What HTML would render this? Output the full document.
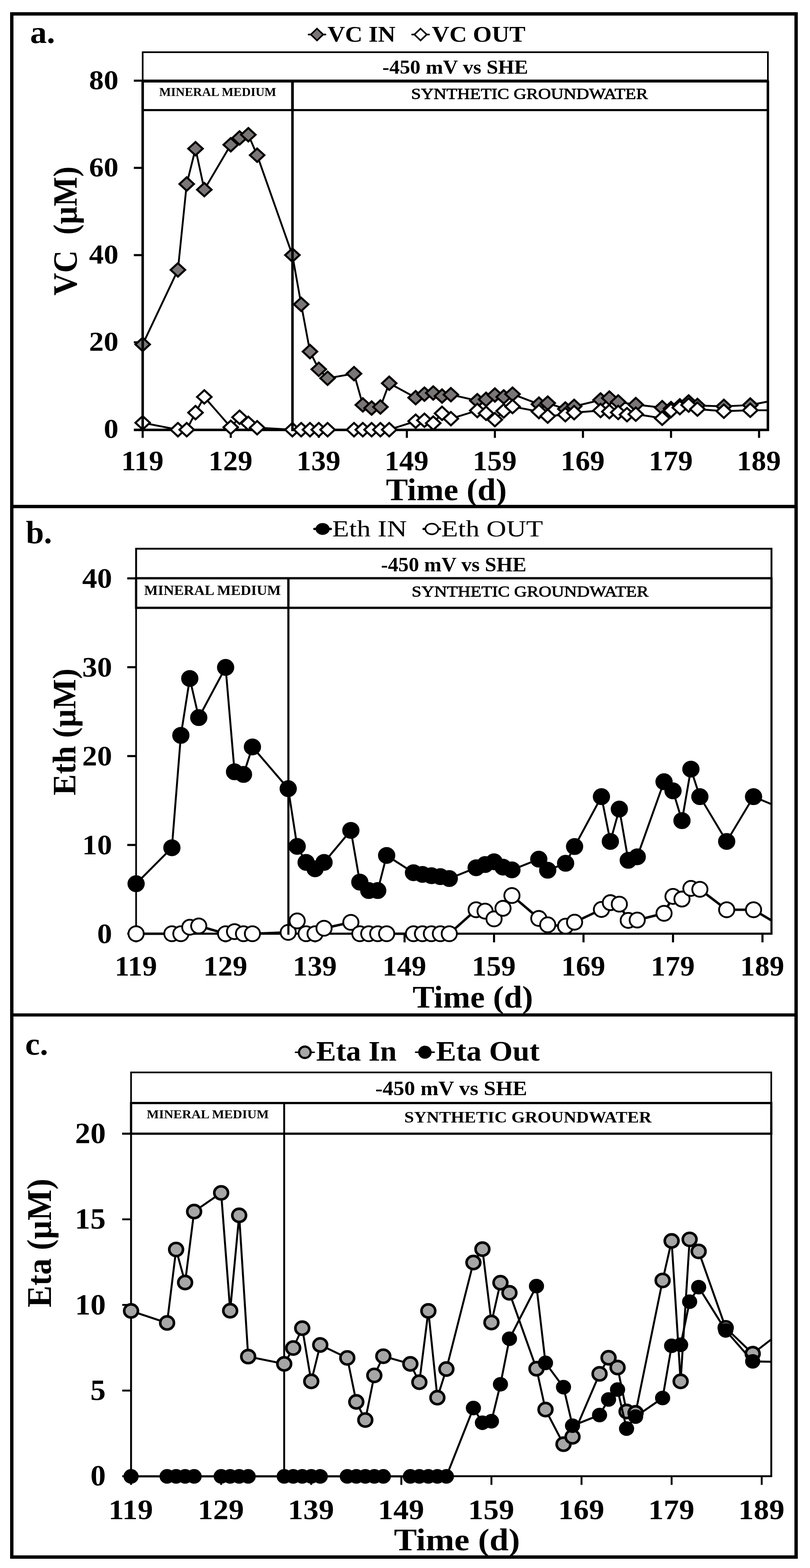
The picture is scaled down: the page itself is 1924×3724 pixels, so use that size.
<!DOCTYPE html>
<html lang="en"><head><meta charset="utf-8"><title>Figure: VC, Eth and Eta time courses</title>
<style>html,body{margin:0;padding:0;background:#fff}body{width:1924px;height:3724px;overflow:hidden}svg{display:block}text{font-family:'Liberation Serif', 'DejaVu Serif', serif;font-weight:bold;fill:#000}line,rect,polyline,path,circle,ellipse{stroke:#000}</style></head><body>
<svg width="1924" height="3724" viewBox="0 0 1924 3724">
<!-- panel a -->
<clipPath id="clipa"><rect x="308.9" y="182.5" width="1515.1" height="888.5"/></clipPath>
<line x1="338.9" y1="1021.0" x2="1827.0" y2="1021.0" stroke-width="6" stroke-linecap="butt"/>
<line x1="1824.0" y1="192.5" x2="1824.0" y2="1021.0" stroke-width="6" stroke-linecap="butt"/>
<line x1="338.9" y1="1021.0" x2="338.9" y2="1039.9" stroke-width="5" stroke-linecap="butt"/>
<line x1="548.1" y1="1021.0" x2="548.1" y2="1039.9" stroke-width="5" stroke-linecap="butt"/>
<line x1="757.2" y1="1021.0" x2="757.2" y2="1039.9" stroke-width="5" stroke-linecap="butt"/>
<line x1="966.4" y1="1021.0" x2="966.4" y2="1039.9" stroke-width="5" stroke-linecap="butt"/>
<line x1="1175.5" y1="1021.0" x2="1175.5" y2="1039.9" stroke-width="5" stroke-linecap="butt"/>
<line x1="1384.7" y1="1021.0" x2="1384.7" y2="1039.9" stroke-width="5" stroke-linecap="butt"/>
<line x1="1593.9" y1="1021.0" x2="1593.9" y2="1039.9" stroke-width="5" stroke-linecap="butt"/>
<line x1="1803.0" y1="1021.0" x2="1803.0" y2="1039.9" stroke-width="5" stroke-linecap="butt"/>
<line x1="317.9" y1="1021.0" x2="338.9" y2="1021.0" stroke-width="6" stroke-linecap="butt"/>
<line x1="317.9" y1="813.0" x2="338.9" y2="813.0" stroke-width="5" stroke-linecap="butt"/>
<line x1="317.9" y1="605.9" x2="338.9" y2="605.9" stroke-width="5" stroke-linecap="butt"/>
<line x1="317.9" y1="398.7" x2="338.9" y2="398.7" stroke-width="5" stroke-linecap="butt"/>
<line x1="317.9" y1="191.6" x2="338.9" y2="191.6" stroke-width="5" stroke-linecap="butt"/>
<g clip-path="url(#clipa)">
<polyline points="338.9,818.0 422.6,641.0 443.5,437.0 464.4,353.1 485.3,450.4 548.1,343.8 569.0,327.7 589.9,320.0 610.8,368.6 694.5,605.8 715.4,722.8 736.3,835.0 757.2,877.1 778.1,898.3 840.9,887.4 861.8,961.7 882.7,969.2 903.6,966.6 924.5,910.2 987.3,944.4 1008.2,936.1 1029.1,933.3 1050.0,940.7 1071.0,937.3 1133.7,951.6 1154.6,948.5 1175.5,938.2 1196.5,942.7 1217.4,936.1 1280.1,959.9 1301.0,957.3 1342.9,971.3 1363.8,965.1 1426.5,950.0 1447.4,945.4 1468.4,954.7 1510.2,960.9 1572.9,968.2 1593.9,970.3 1614.8,964.0 1635.7,954.7 1656.6,963.0 1719.4,965.1 1782.1,962.0 1823.9,953.7" fill="none" stroke-width="4.4" stroke-linejoin="round"/>
<rect x="-0.7071" y="-0.7071" width="1.4142" height="1.4142" transform="translate(338.9 818.0) scale(17.2 15.9) rotate(45)" vector-effect="non-scaling-stroke" fill="#7b7575" stroke-width="4.8"/>
<rect x="-0.7071" y="-0.7071" width="1.4142" height="1.4142" transform="translate(422.6 641.0) scale(17.2 15.9) rotate(45)" vector-effect="non-scaling-stroke" fill="#7b7575" stroke-width="4.8"/>
<rect x="-0.7071" y="-0.7071" width="1.4142" height="1.4142" transform="translate(443.5 437.0) scale(17.2 15.9) rotate(45)" vector-effect="non-scaling-stroke" fill="#7b7575" stroke-width="4.8"/>
<rect x="-0.7071" y="-0.7071" width="1.4142" height="1.4142" transform="translate(464.4 353.1) scale(17.2 15.9) rotate(45)" vector-effect="non-scaling-stroke" fill="#7b7575" stroke-width="4.8"/>
<rect x="-0.7071" y="-0.7071" width="1.4142" height="1.4142" transform="translate(485.3 450.4) scale(17.2 15.9) rotate(45)" vector-effect="non-scaling-stroke" fill="#7b7575" stroke-width="4.8"/>
<rect x="-0.7071" y="-0.7071" width="1.4142" height="1.4142" transform="translate(548.1 343.8) scale(17.2 15.9) rotate(45)" vector-effect="non-scaling-stroke" fill="#7b7575" stroke-width="4.8"/>
<rect x="-0.7071" y="-0.7071" width="1.4142" height="1.4142" transform="translate(569.0 327.7) scale(17.2 15.9) rotate(45)" vector-effect="non-scaling-stroke" fill="#7b7575" stroke-width="4.8"/>
<rect x="-0.7071" y="-0.7071" width="1.4142" height="1.4142" transform="translate(589.9 320.0) scale(17.2 15.9) rotate(45)" vector-effect="non-scaling-stroke" fill="#7b7575" stroke-width="4.8"/>
<rect x="-0.7071" y="-0.7071" width="1.4142" height="1.4142" transform="translate(610.8 368.6) scale(17.2 15.9) rotate(45)" vector-effect="non-scaling-stroke" fill="#7b7575" stroke-width="4.8"/>
<rect x="-0.7071" y="-0.7071" width="1.4142" height="1.4142" transform="translate(694.5 605.8) scale(17.2 15.9) rotate(45)" vector-effect="non-scaling-stroke" fill="#7b7575" stroke-width="4.8"/>
<rect x="-0.7071" y="-0.7071" width="1.4142" height="1.4142" transform="translate(715.4 722.8) scale(17.2 15.9) rotate(45)" vector-effect="non-scaling-stroke" fill="#7b7575" stroke-width="4.8"/>
<rect x="-0.7071" y="-0.7071" width="1.4142" height="1.4142" transform="translate(736.3 835.0) scale(17.2 15.9) rotate(45)" vector-effect="non-scaling-stroke" fill="#7b7575" stroke-width="4.8"/>
<rect x="-0.7071" y="-0.7071" width="1.4142" height="1.4142" transform="translate(757.2 877.1) scale(17.2 15.9) rotate(45)" vector-effect="non-scaling-stroke" fill="#7b7575" stroke-width="4.8"/>
<rect x="-0.7071" y="-0.7071" width="1.4142" height="1.4142" transform="translate(778.1 898.3) scale(17.2 15.9) rotate(45)" vector-effect="non-scaling-stroke" fill="#7b7575" stroke-width="4.8"/>
<rect x="-0.7071" y="-0.7071" width="1.4142" height="1.4142" transform="translate(840.9 887.4) scale(17.2 15.9) rotate(45)" vector-effect="non-scaling-stroke" fill="#7b7575" stroke-width="4.8"/>
<rect x="-0.7071" y="-0.7071" width="1.4142" height="1.4142" transform="translate(861.8 961.7) scale(17.2 15.9) rotate(45)" vector-effect="non-scaling-stroke" fill="#7b7575" stroke-width="4.8"/>
<rect x="-0.7071" y="-0.7071" width="1.4142" height="1.4142" transform="translate(882.7 969.2) scale(17.2 15.9) rotate(45)" vector-effect="non-scaling-stroke" fill="#7b7575" stroke-width="4.8"/>
<rect x="-0.7071" y="-0.7071" width="1.4142" height="1.4142" transform="translate(903.6 966.6) scale(17.2 15.9) rotate(45)" vector-effect="non-scaling-stroke" fill="#7b7575" stroke-width="4.8"/>
<rect x="-0.7071" y="-0.7071" width="1.4142" height="1.4142" transform="translate(924.5 910.2) scale(17.2 15.9) rotate(45)" vector-effect="non-scaling-stroke" fill="#7b7575" stroke-width="4.8"/>
<rect x="-0.7071" y="-0.7071" width="1.4142" height="1.4142" transform="translate(987.3 944.4) scale(17.2 15.9) rotate(45)" vector-effect="non-scaling-stroke" fill="#7b7575" stroke-width="4.8"/>
<rect x="-0.7071" y="-0.7071" width="1.4142" height="1.4142" transform="translate(1008.2 936.1) scale(17.2 15.9) rotate(45)" vector-effect="non-scaling-stroke" fill="#7b7575" stroke-width="4.8"/>
<rect x="-0.7071" y="-0.7071" width="1.4142" height="1.4142" transform="translate(1029.1 933.3) scale(17.2 15.9) rotate(45)" vector-effect="non-scaling-stroke" fill="#7b7575" stroke-width="4.8"/>
<rect x="-0.7071" y="-0.7071" width="1.4142" height="1.4142" transform="translate(1050.0 940.7) scale(17.2 15.9) rotate(45)" vector-effect="non-scaling-stroke" fill="#7b7575" stroke-width="4.8"/>
<rect x="-0.7071" y="-0.7071" width="1.4142" height="1.4142" transform="translate(1071.0 937.3) scale(17.2 15.9) rotate(45)" vector-effect="non-scaling-stroke" fill="#7b7575" stroke-width="4.8"/>
<rect x="-0.7071" y="-0.7071" width="1.4142" height="1.4142" transform="translate(1133.7 951.6) scale(17.2 15.9) rotate(45)" vector-effect="non-scaling-stroke" fill="#7b7575" stroke-width="4.8"/>
<rect x="-0.7071" y="-0.7071" width="1.4142" height="1.4142" transform="translate(1154.6 948.5) scale(17.2 15.9) rotate(45)" vector-effect="non-scaling-stroke" fill="#7b7575" stroke-width="4.8"/>
<rect x="-0.7071" y="-0.7071" width="1.4142" height="1.4142" transform="translate(1175.5 938.2) scale(17.2 15.9) rotate(45)" vector-effect="non-scaling-stroke" fill="#7b7575" stroke-width="4.8"/>
<rect x="-0.7071" y="-0.7071" width="1.4142" height="1.4142" transform="translate(1196.5 942.7) scale(17.2 15.9) rotate(45)" vector-effect="non-scaling-stroke" fill="#7b7575" stroke-width="4.8"/>
<rect x="-0.7071" y="-0.7071" width="1.4142" height="1.4142" transform="translate(1217.4 936.1) scale(17.2 15.9) rotate(45)" vector-effect="non-scaling-stroke" fill="#7b7575" stroke-width="4.8"/>
<rect x="-0.7071" y="-0.7071" width="1.4142" height="1.4142" transform="translate(1280.1 959.9) scale(17.2 15.9) rotate(45)" vector-effect="non-scaling-stroke" fill="#7b7575" stroke-width="4.8"/>
<rect x="-0.7071" y="-0.7071" width="1.4142" height="1.4142" transform="translate(1301.0 957.3) scale(17.2 15.9) rotate(45)" vector-effect="non-scaling-stroke" fill="#7b7575" stroke-width="4.8"/>
<rect x="-0.7071" y="-0.7071" width="1.4142" height="1.4142" transform="translate(1342.9 971.3) scale(17.2 15.9) rotate(45)" vector-effect="non-scaling-stroke" fill="#7b7575" stroke-width="4.8"/>
<rect x="-0.7071" y="-0.7071" width="1.4142" height="1.4142" transform="translate(1363.8 965.1) scale(17.2 15.9) rotate(45)" vector-effect="non-scaling-stroke" fill="#7b7575" stroke-width="4.8"/>
<rect x="-0.7071" y="-0.7071" width="1.4142" height="1.4142" transform="translate(1426.5 950.0) scale(17.2 15.9) rotate(45)" vector-effect="non-scaling-stroke" fill="#7b7575" stroke-width="4.8"/>
<rect x="-0.7071" y="-0.7071" width="1.4142" height="1.4142" transform="translate(1447.4 945.4) scale(17.2 15.9) rotate(45)" vector-effect="non-scaling-stroke" fill="#7b7575" stroke-width="4.8"/>
<rect x="-0.7071" y="-0.7071" width="1.4142" height="1.4142" transform="translate(1468.4 954.7) scale(17.2 15.9) rotate(45)" vector-effect="non-scaling-stroke" fill="#7b7575" stroke-width="4.8"/>
<rect x="-0.7071" y="-0.7071" width="1.4142" height="1.4142" transform="translate(1510.2 960.9) scale(17.2 15.9) rotate(45)" vector-effect="non-scaling-stroke" fill="#7b7575" stroke-width="4.8"/>
<rect x="-0.7071" y="-0.7071" width="1.4142" height="1.4142" transform="translate(1572.9 968.2) scale(17.2 15.9) rotate(45)" vector-effect="non-scaling-stroke" fill="#7b7575" stroke-width="4.8"/>
<rect x="-0.7071" y="-0.7071" width="1.4142" height="1.4142" transform="translate(1593.9 970.3) scale(17.2 15.9) rotate(45)" vector-effect="non-scaling-stroke" fill="#7b7575" stroke-width="4.8"/>
<rect x="-0.7071" y="-0.7071" width="1.4142" height="1.4142" transform="translate(1614.8 964.0) scale(17.2 15.9) rotate(45)" vector-effect="non-scaling-stroke" fill="#7b7575" stroke-width="4.8"/>
<rect x="-0.7071" y="-0.7071" width="1.4142" height="1.4142" transform="translate(1635.7 954.7) scale(17.2 15.9) rotate(45)" vector-effect="non-scaling-stroke" fill="#7b7575" stroke-width="4.8"/>
<rect x="-0.7071" y="-0.7071" width="1.4142" height="1.4142" transform="translate(1656.6 963.0) scale(17.2 15.9) rotate(45)" vector-effect="non-scaling-stroke" fill="#7b7575" stroke-width="4.8"/>
<rect x="-0.7071" y="-0.7071" width="1.4142" height="1.4142" transform="translate(1719.4 965.1) scale(17.2 15.9) rotate(45)" vector-effect="non-scaling-stroke" fill="#7b7575" stroke-width="4.8"/>
<rect x="-0.7071" y="-0.7071" width="1.4142" height="1.4142" transform="translate(1782.1 962.0) scale(17.2 15.9) rotate(45)" vector-effect="non-scaling-stroke" fill="#7b7575" stroke-width="4.8"/>
</g>
<g clip-path="url(#clipa)">
<polyline points="338.9,1004.1 422.6,1020.5 443.5,1020.5 464.4,980.0 485.3,942.7 548.1,1014.8 569.0,991.0 589.9,1005.5 610.8,1015.8 694.5,1020.5 715.4,1020.5 736.3,1020.5 757.2,1020.5 778.1,1020.5 840.9,1020.5 861.8,1020.5 882.7,1020.5 903.6,1020.5 924.5,1020.5 987.3,1000.3 1008.2,998.2 1029.1,1004.9 1050.0,981.7 1071.0,994.3 1133.7,975.0 1154.6,981.7 1175.5,996.7 1196.5,976.0 1217.4,965.7 1280.1,977.5 1301.0,988.3 1342.9,984.8 1363.8,980.0 1426.5,975.0 1447.4,977.5 1468.4,979.6 1489.3,984.8 1510.2,983.7 1572.9,993.4 1593.9,975.0 1614.8,968.2 1635.7,962.0 1656.6,971.7 1719.4,976.5 1782.1,974.4 1823.9,974.4" fill="none" stroke-width="4.4" stroke-linejoin="round"/>
<rect x="-0.7071" y="-0.7071" width="1.4142" height="1.4142" transform="translate(338.9 1004.1) scale(17.2 15.9) rotate(45)" vector-effect="non-scaling-stroke" fill="#fff" stroke-width="4.8"/>
<rect x="-0.7071" y="-0.7071" width="1.4142" height="1.4142" transform="translate(422.6 1020.5) scale(17.2 15.9) rotate(45)" vector-effect="non-scaling-stroke" fill="#fff" stroke-width="4.8"/>
<rect x="-0.7071" y="-0.7071" width="1.4142" height="1.4142" transform="translate(443.5 1020.5) scale(17.2 15.9) rotate(45)" vector-effect="non-scaling-stroke" fill="#fff" stroke-width="4.8"/>
<rect x="-0.7071" y="-0.7071" width="1.4142" height="1.4142" transform="translate(464.4 980.0) scale(17.2 15.9) rotate(45)" vector-effect="non-scaling-stroke" fill="#fff" stroke-width="4.8"/>
<rect x="-0.7071" y="-0.7071" width="1.4142" height="1.4142" transform="translate(485.3 942.7) scale(17.2 15.9) rotate(45)" vector-effect="non-scaling-stroke" fill="#fff" stroke-width="4.8"/>
<rect x="-0.7071" y="-0.7071" width="1.4142" height="1.4142" transform="translate(548.1 1014.8) scale(17.2 15.9) rotate(45)" vector-effect="non-scaling-stroke" fill="#fff" stroke-width="4.8"/>
<rect x="-0.7071" y="-0.7071" width="1.4142" height="1.4142" transform="translate(569.0 991.0) scale(17.2 15.9) rotate(45)" vector-effect="non-scaling-stroke" fill="#fff" stroke-width="4.8"/>
<rect x="-0.7071" y="-0.7071" width="1.4142" height="1.4142" transform="translate(589.9 1005.5) scale(17.2 15.9) rotate(45)" vector-effect="non-scaling-stroke" fill="#fff" stroke-width="4.8"/>
<rect x="-0.7071" y="-0.7071" width="1.4142" height="1.4142" transform="translate(610.8 1015.8) scale(17.2 15.9) rotate(45)" vector-effect="non-scaling-stroke" fill="#fff" stroke-width="4.8"/>
<rect x="-0.7071" y="-0.7071" width="1.4142" height="1.4142" transform="translate(694.5 1020.5) scale(17.2 15.9) rotate(45)" vector-effect="non-scaling-stroke" fill="#fff" stroke-width="4.8"/>
<rect x="-0.7071" y="-0.7071" width="1.4142" height="1.4142" transform="translate(715.4 1020.5) scale(17.2 15.9) rotate(45)" vector-effect="non-scaling-stroke" fill="#fff" stroke-width="4.8"/>
<rect x="-0.7071" y="-0.7071" width="1.4142" height="1.4142" transform="translate(736.3 1020.5) scale(17.2 15.9) rotate(45)" vector-effect="non-scaling-stroke" fill="#fff" stroke-width="4.8"/>
<rect x="-0.7071" y="-0.7071" width="1.4142" height="1.4142" transform="translate(757.2 1020.5) scale(17.2 15.9) rotate(45)" vector-effect="non-scaling-stroke" fill="#fff" stroke-width="4.8"/>
<rect x="-0.7071" y="-0.7071" width="1.4142" height="1.4142" transform="translate(778.1 1020.5) scale(17.2 15.9) rotate(45)" vector-effect="non-scaling-stroke" fill="#fff" stroke-width="4.8"/>
<rect x="-0.7071" y="-0.7071" width="1.4142" height="1.4142" transform="translate(840.9 1020.5) scale(17.2 15.9) rotate(45)" vector-effect="non-scaling-stroke" fill="#fff" stroke-width="4.8"/>
<rect x="-0.7071" y="-0.7071" width="1.4142" height="1.4142" transform="translate(861.8 1020.5) scale(17.2 15.9) rotate(45)" vector-effect="non-scaling-stroke" fill="#fff" stroke-width="4.8"/>
<rect x="-0.7071" y="-0.7071" width="1.4142" height="1.4142" transform="translate(882.7 1020.5) scale(17.2 15.9) rotate(45)" vector-effect="non-scaling-stroke" fill="#fff" stroke-width="4.8"/>
<rect x="-0.7071" y="-0.7071" width="1.4142" height="1.4142" transform="translate(903.6 1020.5) scale(17.2 15.9) rotate(45)" vector-effect="non-scaling-stroke" fill="#fff" stroke-width="4.8"/>
<rect x="-0.7071" y="-0.7071" width="1.4142" height="1.4142" transform="translate(924.5 1020.5) scale(17.2 15.9) rotate(45)" vector-effect="non-scaling-stroke" fill="#fff" stroke-width="4.8"/>
<rect x="-0.7071" y="-0.7071" width="1.4142" height="1.4142" transform="translate(987.3 1000.3) scale(17.2 15.9) rotate(45)" vector-effect="non-scaling-stroke" fill="#fff" stroke-width="4.8"/>
<rect x="-0.7071" y="-0.7071" width="1.4142" height="1.4142" transform="translate(1008.2 998.2) scale(17.2 15.9) rotate(45)" vector-effect="non-scaling-stroke" fill="#fff" stroke-width="4.8"/>
<rect x="-0.7071" y="-0.7071" width="1.4142" height="1.4142" transform="translate(1029.1 1004.9) scale(17.2 15.9) rotate(45)" vector-effect="non-scaling-stroke" fill="#fff" stroke-width="4.8"/>
<rect x="-0.7071" y="-0.7071" width="1.4142" height="1.4142" transform="translate(1050.0 981.7) scale(17.2 15.9) rotate(45)" vector-effect="non-scaling-stroke" fill="#fff" stroke-width="4.8"/>
<rect x="-0.7071" y="-0.7071" width="1.4142" height="1.4142" transform="translate(1071.0 994.3) scale(17.2 15.9) rotate(45)" vector-effect="non-scaling-stroke" fill="#fff" stroke-width="4.8"/>
<rect x="-0.7071" y="-0.7071" width="1.4142" height="1.4142" transform="translate(1133.7 975.0) scale(17.2 15.9) rotate(45)" vector-effect="non-scaling-stroke" fill="#fff" stroke-width="4.8"/>
<rect x="-0.7071" y="-0.7071" width="1.4142" height="1.4142" transform="translate(1154.6 981.7) scale(17.2 15.9) rotate(45)" vector-effect="non-scaling-stroke" fill="#fff" stroke-width="4.8"/>
<rect x="-0.7071" y="-0.7071" width="1.4142" height="1.4142" transform="translate(1175.5 996.7) scale(17.2 15.9) rotate(45)" vector-effect="non-scaling-stroke" fill="#fff" stroke-width="4.8"/>
<rect x="-0.7071" y="-0.7071" width="1.4142" height="1.4142" transform="translate(1196.5 976.0) scale(17.2 15.9) rotate(45)" vector-effect="non-scaling-stroke" fill="#fff" stroke-width="4.8"/>
<rect x="-0.7071" y="-0.7071" width="1.4142" height="1.4142" transform="translate(1217.4 965.7) scale(17.2 15.9) rotate(45)" vector-effect="non-scaling-stroke" fill="#fff" stroke-width="4.8"/>
<rect x="-0.7071" y="-0.7071" width="1.4142" height="1.4142" transform="translate(1280.1 977.5) scale(17.2 15.9) rotate(45)" vector-effect="non-scaling-stroke" fill="#fff" stroke-width="4.8"/>
<rect x="-0.7071" y="-0.7071" width="1.4142" height="1.4142" transform="translate(1301.0 988.3) scale(17.2 15.9) rotate(45)" vector-effect="non-scaling-stroke" fill="#fff" stroke-width="4.8"/>
<rect x="-0.7071" y="-0.7071" width="1.4142" height="1.4142" transform="translate(1342.9 984.8) scale(17.2 15.9) rotate(45)" vector-effect="non-scaling-stroke" fill="#fff" stroke-width="4.8"/>
<rect x="-0.7071" y="-0.7071" width="1.4142" height="1.4142" transform="translate(1363.8 980.0) scale(17.2 15.9) rotate(45)" vector-effect="non-scaling-stroke" fill="#fff" stroke-width="4.8"/>
<rect x="-0.7071" y="-0.7071" width="1.4142" height="1.4142" transform="translate(1426.5 975.0) scale(17.2 15.9) rotate(45)" vector-effect="non-scaling-stroke" fill="#fff" stroke-width="4.8"/>
<rect x="-0.7071" y="-0.7071" width="1.4142" height="1.4142" transform="translate(1447.4 977.5) scale(17.2 15.9) rotate(45)" vector-effect="non-scaling-stroke" fill="#fff" stroke-width="4.8"/>
<rect x="-0.7071" y="-0.7071" width="1.4142" height="1.4142" transform="translate(1468.4 979.6) scale(17.2 15.9) rotate(45)" vector-effect="non-scaling-stroke" fill="#fff" stroke-width="4.8"/>
<rect x="-0.7071" y="-0.7071" width="1.4142" height="1.4142" transform="translate(1489.3 984.8) scale(17.2 15.9) rotate(45)" vector-effect="non-scaling-stroke" fill="#fff" stroke-width="4.8"/>
<rect x="-0.7071" y="-0.7071" width="1.4142" height="1.4142" transform="translate(1510.2 983.7) scale(17.2 15.9) rotate(45)" vector-effect="non-scaling-stroke" fill="#fff" stroke-width="4.8"/>
<rect x="-0.7071" y="-0.7071" width="1.4142" height="1.4142" transform="translate(1572.9 993.4) scale(17.2 15.9) rotate(45)" vector-effect="non-scaling-stroke" fill="#fff" stroke-width="4.8"/>
<rect x="-0.7071" y="-0.7071" width="1.4142" height="1.4142" transform="translate(1593.9 975.0) scale(17.2 15.9) rotate(45)" vector-effect="non-scaling-stroke" fill="#fff" stroke-width="4.8"/>
<rect x="-0.7071" y="-0.7071" width="1.4142" height="1.4142" transform="translate(1614.8 968.2) scale(17.2 15.9) rotate(45)" vector-effect="non-scaling-stroke" fill="#fff" stroke-width="4.8"/>
<rect x="-0.7071" y="-0.7071" width="1.4142" height="1.4142" transform="translate(1635.7 962.0) scale(17.2 15.9) rotate(45)" vector-effect="non-scaling-stroke" fill="#fff" stroke-width="4.8"/>
<rect x="-0.7071" y="-0.7071" width="1.4142" height="1.4142" transform="translate(1656.6 971.7) scale(17.2 15.9) rotate(45)" vector-effect="non-scaling-stroke" fill="#fff" stroke-width="4.8"/>
<rect x="-0.7071" y="-0.7071" width="1.4142" height="1.4142" transform="translate(1719.4 976.5) scale(17.2 15.9) rotate(45)" vector-effect="non-scaling-stroke" fill="#fff" stroke-width="4.8"/>
<rect x="-0.7071" y="-0.7071" width="1.4142" height="1.4142" transform="translate(1782.1 974.4) scale(17.2 15.9) rotate(45)" vector-effect="non-scaling-stroke" fill="#fff" stroke-width="4.8"/>
</g>
<line x1="338.9" y1="192.5" x2="338.9" y2="1024.0" stroke-width="6" stroke-linecap="butt"/>
<line x1="694.7" y1="192.5" x2="694.7" y2="1024.0" stroke-width="6" stroke-linecap="butt"/>
<rect x="338.9" y="124.0" width="1485.1" height="68.5" fill="none" stroke-width="4"/>
<rect x="338.9" y="192.5" width="1485.1" height="69.0" fill="none" stroke-width="5"/>
<line x1="338.9" y1="192.5" x2="1824.0" y2="192.5" stroke-width="7" stroke-linecap="butt"/>
<line x1="694.7" y1="192.5" x2="694.7" y2="261.5" stroke-width="6" stroke-linecap="butt"/>
<text transform="translate(71.42 102.00) scale(1.0380 1)" font-size="76.50">a.</text>
<line x1="733.0" y1="82.0" x2="773.0" y2="82.0" stroke-width="4.2" stroke-linecap="round"/>
<rect x="-0.7071" y="-0.7071" width="1.4142" height="1.4142" transform="translate(753.0 82.0) scale(14.6 14.0) rotate(45)" vector-effect="non-scaling-stroke" fill="#7b7575" stroke-width="3.8"/>
<text transform="translate(777.92 98.70) scale(1.0799 1)" font-size="53.30">VC IN</text>
<line x1="979.0" y1="82.0" x2="1019.0" y2="82.0" stroke-width="4.2" stroke-linecap="round"/>
<rect x="-0.7071" y="-0.7071" width="1.4142" height="1.4142" transform="translate(999.0 82.0) scale(14.6 14.0) rotate(45)" vector-effect="non-scaling-stroke" fill="#fff" stroke-width="3.8"/>
<text transform="translate(1025.82 98.70) scale(1.0802 1)" font-size="53.30">VC OUT</text>
<text transform="translate(908.27 175.10) scale(1.0553 1)" font-size="46.80">-450 mV vs SHE</text>
<text transform="translate(378.26 228.30) scale(1.0185 1)" font-size="29.00">MINERAL MEDIUM</text>
<text transform="translate(976.57 235.40) scale(1.1393 1)" font-size="36.80" style="font-weight:normal" stroke="#000" stroke-width="1.0">SYNTHETIC GROUNDWATER</text>
<text transform="translate(182.40 701.64) rotate(-90) scale(0.9305 1)" font-size="79.70" xml:space="preserve">VC  (µM)</text>
<text transform="translate(916.63 1187.90) scale(1.0632 1)" font-size="73.50">Time (d)</text>
<text transform="translate(246.47 1040.30) scale(1.0600 1)" font-size="65.90">0</text>
<text transform="translate(211.54 833.17) scale(1.0600 1)" font-size="65.90">20</text>
<text transform="translate(211.54 626.05) scale(1.0600 1)" font-size="65.90">40</text>
<text transform="translate(211.54 418.93) scale(1.0600 1)" font-size="65.90">60</text>
<text transform="translate(211.54 211.80) scale(1.0600 1)" font-size="65.90">80</text>
<text transform="translate(287.93 1116.60) scale(1.0350 1)" font-size="67.40">119</text>
<text transform="translate(495.17 1116.60) scale(1.0350 1)" font-size="67.40">129</text>
<text transform="translate(704.33 1116.60) scale(1.0350 1)" font-size="67.40">139</text>
<text transform="translate(913.49 1116.60) scale(1.0350 1)" font-size="67.40">149</text>
<text transform="translate(1122.65 1116.60) scale(1.0350 1)" font-size="67.40">159</text>
<text transform="translate(1331.81 1116.60) scale(1.0350 1)" font-size="67.40">169</text>
<text transform="translate(1540.97 1116.60) scale(1.0350 1)" font-size="67.40">179</text>
<text transform="translate(1750.13 1116.60) scale(1.0350 1)" font-size="67.40">189</text>
<!-- panel b -->
<clipPath id="clipb"><rect x="293.3" y="1363.3" width="1539.2" height="904.2"/></clipPath>
<line x1="323.3" y1="2217.5" x2="1835.0" y2="2217.5" stroke-width="5" stroke-linecap="butt"/>
<line x1="1832.5" y1="1373.3" x2="1832.5" y2="2217.5" stroke-width="5" stroke-linecap="butt"/>
<line x1="323.3" y1="2217.5" x2="323.3" y2="2238.1" stroke-width="5" stroke-linecap="butt"/>
<line x1="535.9" y1="2217.5" x2="535.9" y2="2238.1" stroke-width="5" stroke-linecap="butt"/>
<line x1="748.4" y1="2217.5" x2="748.4" y2="2238.1" stroke-width="5" stroke-linecap="butt"/>
<line x1="961.0" y1="2217.5" x2="961.0" y2="2238.1" stroke-width="5" stroke-linecap="butt"/>
<line x1="1173.5" y1="2217.5" x2="1173.5" y2="2238.1" stroke-width="5" stroke-linecap="butt"/>
<line x1="1386.0" y1="2217.5" x2="1386.0" y2="2238.1" stroke-width="5" stroke-linecap="butt"/>
<line x1="1598.6" y1="2217.5" x2="1598.6" y2="2238.1" stroke-width="5" stroke-linecap="butt"/>
<line x1="1811.1" y1="2217.5" x2="1811.1" y2="2238.1" stroke-width="5" stroke-linecap="butt"/>
<line x1="302.3" y1="2217.5" x2="323.3" y2="2217.5" stroke-width="5" stroke-linecap="butt"/>
<line x1="302.3" y1="2006.8" x2="323.3" y2="2006.8" stroke-width="5" stroke-linecap="butt"/>
<line x1="302.3" y1="1795.7" x2="323.3" y2="1795.7" stroke-width="5" stroke-linecap="butt"/>
<line x1="302.3" y1="1584.6" x2="323.3" y2="1584.6" stroke-width="5" stroke-linecap="butt"/>
<line x1="302.3" y1="1373.6" x2="323.3" y2="1373.6" stroke-width="5" stroke-linecap="butt"/>
<line x1="323.3" y1="1373.3" x2="323.3" y2="2220.0" stroke-width="4.0" stroke-linecap="butt"/>
<g clip-path="url(#clipb)">
<polyline points="323.3,2098.8 408.3,2013.4 429.6,1746.5 450.8,1611.4 472.1,1704.3 535.9,1585.1 557.1,1833.0 578.4,1839.3 599.6,1773.9 684.6,1873.1 705.9,2010.2 727.1,2048.2 748.4,2063.4 769.7,2048.2 833.4,1972.2 854.7,2095.0 875.9,2115.1 897.2,2115.1 918.4,2031.7 982.2,2072.7 1003.5,2076.7 1024.7,2079.8 1046.0,2082.0 1067.2,2086.6 1131.0,2060.9 1152.2,2053.3 1173.5,2046.7 1194.8,2059.4 1216.0,2065.9 1279.8,2040.6 1301.0,2066.8 1343.5,2050.3 1364.8,2010.6 1428.6,1892.1 1449.8,1998.4 1471.1,1921.6 1492.3,2043.3 1513.6,2034.9 1577.3,1856.6 1598.6,1878.3 1619.9,1949.0 1641.1,1826.7 1662.4,1892.1 1726.1,1998.4 1789.9,1892.1 1832.4,1910.0" fill="none" stroke-width="4.6" stroke-linejoin="round"/>
<ellipse cx="323.3" cy="2098.8" rx="18.5" ry="18.0" fill="#000" stroke-width="4.0"/>
<ellipse cx="408.3" cy="2013.4" rx="18.5" ry="18.0" fill="#000" stroke-width="4.0"/>
<ellipse cx="429.6" cy="1746.5" rx="18.5" ry="18.0" fill="#000" stroke-width="4.0"/>
<ellipse cx="450.8" cy="1611.4" rx="18.5" ry="18.0" fill="#000" stroke-width="4.0"/>
<ellipse cx="472.1" cy="1704.3" rx="18.5" ry="18.0" fill="#000" stroke-width="4.0"/>
<ellipse cx="535.9" cy="1585.1" rx="18.5" ry="18.0" fill="#000" stroke-width="4.0"/>
<ellipse cx="557.1" cy="1833.0" rx="18.5" ry="18.0" fill="#000" stroke-width="4.0"/>
<ellipse cx="578.4" cy="1839.3" rx="18.5" ry="18.0" fill="#000" stroke-width="4.0"/>
<ellipse cx="599.6" cy="1773.9" rx="18.5" ry="18.0" fill="#000" stroke-width="4.0"/>
<ellipse cx="684.6" cy="1873.1" rx="18.5" ry="18.0" fill="#000" stroke-width="4.0"/>
<ellipse cx="705.9" cy="2010.2" rx="18.5" ry="18.0" fill="#000" stroke-width="4.0"/>
<ellipse cx="727.1" cy="2048.2" rx="18.5" ry="18.0" fill="#000" stroke-width="4.0"/>
<ellipse cx="748.4" cy="2063.4" rx="18.5" ry="18.0" fill="#000" stroke-width="4.0"/>
<ellipse cx="769.7" cy="2048.2" rx="18.5" ry="18.0" fill="#000" stroke-width="4.0"/>
<ellipse cx="833.4" cy="1972.2" rx="18.5" ry="18.0" fill="#000" stroke-width="4.0"/>
<ellipse cx="854.7" cy="2095.0" rx="18.5" ry="18.0" fill="#000" stroke-width="4.0"/>
<ellipse cx="875.9" cy="2115.1" rx="18.5" ry="18.0" fill="#000" stroke-width="4.0"/>
<ellipse cx="897.2" cy="2115.1" rx="18.5" ry="18.0" fill="#000" stroke-width="4.0"/>
<ellipse cx="918.4" cy="2031.7" rx="18.5" ry="18.0" fill="#000" stroke-width="4.0"/>
<ellipse cx="982.2" cy="2072.7" rx="18.5" ry="18.0" fill="#000" stroke-width="4.0"/>
<ellipse cx="1003.5" cy="2076.7" rx="18.5" ry="18.0" fill="#000" stroke-width="4.0"/>
<ellipse cx="1024.7" cy="2079.8" rx="18.5" ry="18.0" fill="#000" stroke-width="4.0"/>
<ellipse cx="1046.0" cy="2082.0" rx="18.5" ry="18.0" fill="#000" stroke-width="4.0"/>
<ellipse cx="1067.2" cy="2086.6" rx="18.5" ry="18.0" fill="#000" stroke-width="4.0"/>
<ellipse cx="1131.0" cy="2060.9" rx="18.5" ry="18.0" fill="#000" stroke-width="4.0"/>
<ellipse cx="1152.2" cy="2053.3" rx="18.5" ry="18.0" fill="#000" stroke-width="4.0"/>
<ellipse cx="1173.5" cy="2046.7" rx="18.5" ry="18.0" fill="#000" stroke-width="4.0"/>
<ellipse cx="1194.8" cy="2059.4" rx="18.5" ry="18.0" fill="#000" stroke-width="4.0"/>
<ellipse cx="1216.0" cy="2065.9" rx="18.5" ry="18.0" fill="#000" stroke-width="4.0"/>
<ellipse cx="1279.8" cy="2040.6" rx="18.5" ry="18.0" fill="#000" stroke-width="4.0"/>
<ellipse cx="1301.0" cy="2066.8" rx="18.5" ry="18.0" fill="#000" stroke-width="4.0"/>
<ellipse cx="1343.5" cy="2050.3" rx="18.5" ry="18.0" fill="#000" stroke-width="4.0"/>
<ellipse cx="1364.8" cy="2010.6" rx="18.5" ry="18.0" fill="#000" stroke-width="4.0"/>
<ellipse cx="1428.6" cy="1892.1" rx="18.5" ry="18.0" fill="#000" stroke-width="4.0"/>
<ellipse cx="1449.8" cy="1998.4" rx="18.5" ry="18.0" fill="#000" stroke-width="4.0"/>
<ellipse cx="1471.1" cy="1921.6" rx="18.5" ry="18.0" fill="#000" stroke-width="4.0"/>
<ellipse cx="1492.3" cy="2043.3" rx="18.5" ry="18.0" fill="#000" stroke-width="4.0"/>
<ellipse cx="1513.6" cy="2034.9" rx="18.5" ry="18.0" fill="#000" stroke-width="4.0"/>
<ellipse cx="1577.3" cy="1856.6" rx="18.5" ry="18.0" fill="#000" stroke-width="4.0"/>
<ellipse cx="1598.6" cy="1878.3" rx="18.5" ry="18.0" fill="#000" stroke-width="4.0"/>
<ellipse cx="1619.9" cy="1949.0" rx="18.5" ry="18.0" fill="#000" stroke-width="4.0"/>
<ellipse cx="1641.1" cy="1826.7" rx="18.5" ry="18.0" fill="#000" stroke-width="4.0"/>
<ellipse cx="1662.4" cy="1892.1" rx="18.5" ry="18.0" fill="#000" stroke-width="4.0"/>
<ellipse cx="1726.1" cy="1998.4" rx="18.5" ry="18.0" fill="#000" stroke-width="4.0"/>
<ellipse cx="1789.9" cy="1892.1" rx="18.5" ry="18.0" fill="#000" stroke-width="4.0"/>
</g>
<g clip-path="url(#clipb)">
<polyline points="323.3,2217.6 408.3,2217.6 429.6,2217.6 450.8,2202.2 472.1,2199.1 535.9,2217.6 557.1,2212.6 578.4,2217.6 599.6,2217.6 684.6,2214.5 705.9,2187.2 727.1,2217.6 748.4,2217.6 769.7,2204.6 833.4,2190.6 854.7,2217.6 875.9,2217.6 897.2,2217.6 918.4,2217.6 982.2,2217.6 1003.5,2217.6 1024.7,2217.6 1046.0,2217.6 1067.2,2217.6 1131.0,2160.7 1152.2,2164.0 1173.5,2182.4 1194.8,2157.3 1216.0,2126.9 1279.8,2181.3 1301.0,2196.5 1343.5,2199.7 1364.8,2190.2 1428.6,2160.0 1449.8,2143.8 1471.1,2147.4 1492.3,2186.0 1513.6,2185.1 1577.3,2169.1 1598.6,2129.0 1619.9,2135.3 1641.1,2110.0 1662.4,2112.1 1726.1,2160.7 1789.9,2160.7 1832.4,2186.0" fill="none" stroke-width="5.8" stroke-linejoin="round"/>
<ellipse cx="323.3" cy="2217.6" rx="18.1" ry="17.8" fill="#fff" stroke-width="4.3"/>
<ellipse cx="408.3" cy="2217.6" rx="18.1" ry="17.8" fill="#fff" stroke-width="4.3"/>
<ellipse cx="429.6" cy="2217.6" rx="18.1" ry="17.8" fill="#fff" stroke-width="4.3"/>
<ellipse cx="450.8" cy="2202.2" rx="18.1" ry="17.8" fill="#fff" stroke-width="4.3"/>
<ellipse cx="472.1" cy="2199.1" rx="18.1" ry="17.8" fill="#fff" stroke-width="4.3"/>
<ellipse cx="535.9" cy="2217.6" rx="18.1" ry="17.8" fill="#fff" stroke-width="4.3"/>
<ellipse cx="557.1" cy="2212.6" rx="18.1" ry="17.8" fill="#fff" stroke-width="4.3"/>
<ellipse cx="578.4" cy="2217.6" rx="18.1" ry="17.8" fill="#fff" stroke-width="4.3"/>
<ellipse cx="599.6" cy="2217.6" rx="18.1" ry="17.8" fill="#fff" stroke-width="4.3"/>
<ellipse cx="684.6" cy="2214.5" rx="18.1" ry="17.8" fill="#fff" stroke-width="4.3"/>
<ellipse cx="705.9" cy="2187.2" rx="18.1" ry="17.8" fill="#fff" stroke-width="4.3"/>
<ellipse cx="727.1" cy="2217.6" rx="18.1" ry="17.8" fill="#fff" stroke-width="4.3"/>
<ellipse cx="748.4" cy="2217.6" rx="18.1" ry="17.8" fill="#fff" stroke-width="4.3"/>
<ellipse cx="769.7" cy="2204.6" rx="18.1" ry="17.8" fill="#fff" stroke-width="4.3"/>
<ellipse cx="833.4" cy="2190.6" rx="18.1" ry="17.8" fill="#fff" stroke-width="4.3"/>
<ellipse cx="854.7" cy="2217.6" rx="18.1" ry="17.8" fill="#fff" stroke-width="4.3"/>
<ellipse cx="875.9" cy="2217.6" rx="18.1" ry="17.8" fill="#fff" stroke-width="4.3"/>
<ellipse cx="897.2" cy="2217.6" rx="18.1" ry="17.8" fill="#fff" stroke-width="4.3"/>
<ellipse cx="918.4" cy="2217.6" rx="18.1" ry="17.8" fill="#fff" stroke-width="4.3"/>
<ellipse cx="982.2" cy="2217.6" rx="18.1" ry="17.8" fill="#fff" stroke-width="4.3"/>
<ellipse cx="1003.5" cy="2217.6" rx="18.1" ry="17.8" fill="#fff" stroke-width="4.3"/>
<ellipse cx="1024.7" cy="2217.6" rx="18.1" ry="17.8" fill="#fff" stroke-width="4.3"/>
<ellipse cx="1046.0" cy="2217.6" rx="18.1" ry="17.8" fill="#fff" stroke-width="4.3"/>
<ellipse cx="1067.2" cy="2217.6" rx="18.1" ry="17.8" fill="#fff" stroke-width="4.3"/>
<ellipse cx="1131.0" cy="2160.7" rx="18.1" ry="17.8" fill="#fff" stroke-width="4.3"/>
<ellipse cx="1152.2" cy="2164.0" rx="18.1" ry="17.8" fill="#fff" stroke-width="4.3"/>
<ellipse cx="1173.5" cy="2182.4" rx="18.1" ry="17.8" fill="#fff" stroke-width="4.3"/>
<ellipse cx="1194.8" cy="2157.3" rx="18.1" ry="17.8" fill="#fff" stroke-width="4.3"/>
<ellipse cx="1216.0" cy="2126.9" rx="18.1" ry="17.8" fill="#fff" stroke-width="4.3"/>
<ellipse cx="1279.8" cy="2181.3" rx="18.1" ry="17.8" fill="#fff" stroke-width="4.3"/>
<ellipse cx="1301.0" cy="2196.5" rx="18.1" ry="17.8" fill="#fff" stroke-width="4.3"/>
<ellipse cx="1343.5" cy="2199.7" rx="18.1" ry="17.8" fill="#fff" stroke-width="4.3"/>
<ellipse cx="1364.8" cy="2190.2" rx="18.1" ry="17.8" fill="#fff" stroke-width="4.3"/>
<ellipse cx="1428.6" cy="2160.0" rx="18.1" ry="17.8" fill="#fff" stroke-width="4.3"/>
<ellipse cx="1449.8" cy="2143.8" rx="18.1" ry="17.8" fill="#fff" stroke-width="4.3"/>
<ellipse cx="1471.1" cy="2147.4" rx="18.1" ry="17.8" fill="#fff" stroke-width="4.3"/>
<ellipse cx="1492.3" cy="2186.0" rx="18.1" ry="17.8" fill="#fff" stroke-width="4.3"/>
<ellipse cx="1513.6" cy="2185.1" rx="18.1" ry="17.8" fill="#fff" stroke-width="4.3"/>
<ellipse cx="1577.3" cy="2169.1" rx="18.1" ry="17.8" fill="#fff" stroke-width="4.3"/>
<ellipse cx="1598.6" cy="2129.0" rx="18.1" ry="17.8" fill="#fff" stroke-width="4.3"/>
<ellipse cx="1619.9" cy="2135.3" rx="18.1" ry="17.8" fill="#fff" stroke-width="4.3"/>
<ellipse cx="1641.1" cy="2110.0" rx="18.1" ry="17.8" fill="#fff" stroke-width="4.3"/>
<ellipse cx="1662.4" cy="2112.1" rx="18.1" ry="17.8" fill="#fff" stroke-width="4.3"/>
<ellipse cx="1726.1" cy="2160.7" rx="18.1" ry="17.8" fill="#fff" stroke-width="4.3"/>
<ellipse cx="1789.9" cy="2160.7" rx="18.1" ry="17.8" fill="#fff" stroke-width="4.3"/>
</g>
<line x1="685.0" y1="1373.3" x2="685.0" y2="2220.0" stroke-width="5" stroke-linecap="butt"/>
<rect x="323.3" y="1303.2" width="1509.2" height="70.1" fill="none" stroke-width="4.4"/>
<rect x="323.3" y="1373.3" width="1509.2" height="70.3" fill="none" stroke-width="5.4"/>
<line x1="323.3" y1="1373.3" x2="1832.5" y2="1373.3" stroke-width="4.8" stroke-linecap="butt"/>
<line x1="685.0" y1="1373.3" x2="685.0" y2="1443.6" stroke-width="5" stroke-linecap="butt"/>
<text transform="translate(61.44 1290.00) scale(1.0138 1)" font-size="76.00">b.</text>
<line x1="746.7" y1="1256.3" x2="785.9" y2="1256.3" stroke-width="5.4" stroke-linecap="round"/>
<ellipse cx="766.3" cy="1256.3" rx="15.2" ry="12.7" fill="#000" stroke-width="2.8"/>
<text transform="translate(789.02 1274.30) scale(1.2093 1)" font-size="54.50" style="font-weight:normal">Eth IN</text>
<line x1="1006.1" y1="1256.3" x2="1045.3" y2="1256.3" stroke-width="5.4" stroke-linecap="round"/>
<ellipse cx="1025.7" cy="1256.3" rx="15.2" ry="12.7" fill="#fff" stroke-width="3.8"/>
<text transform="translate(1048.04 1274.30) scale(1.2011 1)" font-size="54.50" style="font-weight:normal">Eth OUT</text>
<text transform="translate(904.98 1357.30) scale(1.0311 1)" font-size="47.80">-450 mV vs SHE</text>
<text transform="translate(342.58 1413.30) scale(1.0051 1)" font-size="34.30">MINERAL MEDIUM</text>
<text transform="translate(977.87 1417.00) scale(1.1399 1)" font-size="36.80" style="font-weight:normal" stroke="#000" stroke-width="1.0">SYNTHETIC GROUNDWATER</text>
<text transform="translate(178.90 1888.93) rotate(-90) scale(0.9606 1)" font-size="78.60">Eth (µM)</text>
<text transform="translate(980.03 2392.70) scale(1.0595 1)" font-size="73.50">Time (d)</text>
<text transform="translate(230.75 2239.90) scale(1.0500 1)" font-size="67.60">0</text>
<text transform="translate(195.26 2028.85) scale(1.0500 1)" font-size="67.60">10</text>
<text transform="translate(195.26 1817.80) scale(1.0500 1)" font-size="67.60">20</text>
<text transform="translate(195.26 1606.75) scale(1.0500 1)" font-size="67.60">30</text>
<text transform="translate(195.26 1395.70) scale(1.0500 1)" font-size="67.60">40</text>
<text transform="translate(272.43 2317.00) scale(1.0300 1)" font-size="67.60">119</text>
<text transform="translate(483.06 2317.00) scale(1.0300 1)" font-size="67.60">129</text>
<text transform="translate(695.61 2317.00) scale(1.0300 1)" font-size="67.60">139</text>
<text transform="translate(908.16 2317.00) scale(1.0300 1)" font-size="67.60">149</text>
<text transform="translate(1120.71 2317.00) scale(1.0300 1)" font-size="67.60">159</text>
<text transform="translate(1333.26 2317.00) scale(1.0300 1)" font-size="67.60">169</text>
<text transform="translate(1545.81 2317.00) scale(1.0300 1)" font-size="67.60">179</text>
<text transform="translate(1758.36 2317.00) scale(1.0300 1)" font-size="67.60">189</text>
<!-- panel c -->
<clipPath id="clipc"><rect x="281.3" y="2682.5" width="1550.7" height="873.5"/></clipPath>
<line x1="311.3" y1="3506.0" x2="1834.2" y2="3506.0" stroke-width="4.5" stroke-linecap="butt"/>
<line x1="1832.0" y1="2692.5" x2="1832.0" y2="3506.0" stroke-width="4.5" stroke-linecap="butt"/>
<line x1="311.3" y1="3506.0" x2="311.3" y2="3526.6" stroke-width="4.5" stroke-linecap="butt"/>
<line x1="525.3" y1="3506.0" x2="525.3" y2="3526.6" stroke-width="4.5" stroke-linecap="butt"/>
<line x1="739.3" y1="3506.0" x2="739.3" y2="3526.6" stroke-width="4.5" stroke-linecap="butt"/>
<line x1="953.3" y1="3506.0" x2="953.3" y2="3526.6" stroke-width="4.5" stroke-linecap="butt"/>
<line x1="1167.3" y1="3506.0" x2="1167.3" y2="3526.6" stroke-width="4.5" stroke-linecap="butt"/>
<line x1="1381.3" y1="3506.0" x2="1381.3" y2="3526.6" stroke-width="4.5" stroke-linecap="butt"/>
<line x1="1595.3" y1="3506.0" x2="1595.3" y2="3526.6" stroke-width="4.5" stroke-linecap="butt"/>
<line x1="1809.3" y1="3506.0" x2="1809.3" y2="3526.6" stroke-width="4.5" stroke-linecap="butt"/>
<line x1="290.3" y1="3506.0" x2="311.3" y2="3506.0" stroke-width="4.5" stroke-linecap="butt"/>
<line x1="290.3" y1="3302.6" x2="311.3" y2="3302.6" stroke-width="4.5" stroke-linecap="butt"/>
<line x1="290.3" y1="3099.2" x2="311.3" y2="3099.2" stroke-width="4.5" stroke-linecap="butt"/>
<line x1="290.3" y1="2895.9" x2="311.3" y2="2895.9" stroke-width="4.5" stroke-linecap="butt"/>
<line x1="290.3" y1="2692.5" x2="311.3" y2="2692.5" stroke-width="4.5" stroke-linecap="butt"/>
<line x1="311.3" y1="2692.5" x2="311.3" y2="3508.2" stroke-width="4.5" stroke-linecap="butt"/>
<line x1="675.0" y1="2692.5" x2="675.0" y2="3508.2" stroke-width="4.5" stroke-linecap="butt"/>
<g clip-path="url(#clipc)">
<polyline points="311.3,3113.4 396.9,3141.9 418.3,2967.6 439.7,3046.0 461.1,2877.4 525.3,2833.1 546.7,3113.0 568.1,2886.4 589.5,3221.9 675.1,3239.3 696.5,3201.6 717.9,3154.4 739.3,3280.8 760.7,3194.3 824.9,3225.1 846.3,3329.5 867.7,3372.6 889.1,3266.6 910.5,3221.1 974.7,3239.3 996.1,3282.8 1017.5,3113.4 1038.9,3319.4 1060.3,3251.5 1124.5,2998.5 1145.9,2966.8 1167.3,3141.0 1188.7,3046.4 1210.1,3070.4 1274.3,3250.7 1295.7,3347.8 1338.5,3429.9 1359.9,3412.4 1424.1,3262.9 1445.5,3224.7 1466.9,3247.9 1488.3,3352.3 1509.7,3355.5 1573.9,3041.1 1595.3,2947.3 1616.7,3280.8 1638.1,2943.6 1659.5,2972.1 1723.7,3153.6 1787.9,3215.0 1830.7,3182.1" fill="none" stroke-width="4.7" stroke-linejoin="round"/>
<ellipse cx="311.3" cy="3113.4" rx="16.3" ry="15.6" fill="#a6a6a6" stroke-width="6.2"/>
<ellipse cx="396.9" cy="3141.9" rx="16.3" ry="15.6" fill="#a6a6a6" stroke-width="6.2"/>
<ellipse cx="418.3" cy="2967.6" rx="16.3" ry="15.6" fill="#a6a6a6" stroke-width="6.2"/>
<ellipse cx="439.7" cy="3046.0" rx="16.3" ry="15.6" fill="#a6a6a6" stroke-width="6.2"/>
<ellipse cx="461.1" cy="2877.4" rx="16.3" ry="15.6" fill="#a6a6a6" stroke-width="6.2"/>
<ellipse cx="525.3" cy="2833.1" rx="16.3" ry="15.6" fill="#a6a6a6" stroke-width="6.2"/>
<ellipse cx="546.7" cy="3113.0" rx="16.3" ry="15.6" fill="#a6a6a6" stroke-width="6.2"/>
<ellipse cx="568.1" cy="2886.4" rx="16.3" ry="15.6" fill="#a6a6a6" stroke-width="6.2"/>
<ellipse cx="589.5" cy="3221.9" rx="16.3" ry="15.6" fill="#a6a6a6" stroke-width="6.2"/>
<ellipse cx="675.1" cy="3239.3" rx="16.3" ry="15.6" fill="#a6a6a6" stroke-width="6.2"/>
<ellipse cx="696.5" cy="3201.6" rx="16.3" ry="15.6" fill="#a6a6a6" stroke-width="6.2"/>
<ellipse cx="717.9" cy="3154.4" rx="16.3" ry="15.6" fill="#a6a6a6" stroke-width="6.2"/>
<ellipse cx="739.3" cy="3280.8" rx="16.3" ry="15.6" fill="#a6a6a6" stroke-width="6.2"/>
<ellipse cx="760.7" cy="3194.3" rx="16.3" ry="15.6" fill="#a6a6a6" stroke-width="6.2"/>
<ellipse cx="824.9" cy="3225.1" rx="16.3" ry="15.6" fill="#a6a6a6" stroke-width="6.2"/>
<ellipse cx="846.3" cy="3329.5" rx="16.3" ry="15.6" fill="#a6a6a6" stroke-width="6.2"/>
<ellipse cx="867.7" cy="3372.6" rx="16.3" ry="15.6" fill="#a6a6a6" stroke-width="6.2"/>
<ellipse cx="889.1" cy="3266.6" rx="16.3" ry="15.6" fill="#a6a6a6" stroke-width="6.2"/>
<ellipse cx="910.5" cy="3221.1" rx="16.3" ry="15.6" fill="#a6a6a6" stroke-width="6.2"/>
<ellipse cx="974.7" cy="3239.3" rx="16.3" ry="15.6" fill="#a6a6a6" stroke-width="6.2"/>
<ellipse cx="996.1" cy="3282.8" rx="16.3" ry="15.6" fill="#a6a6a6" stroke-width="6.2"/>
<ellipse cx="1017.5" cy="3113.4" rx="16.3" ry="15.6" fill="#a6a6a6" stroke-width="6.2"/>
<ellipse cx="1038.9" cy="3319.4" rx="16.3" ry="15.6" fill="#a6a6a6" stroke-width="6.2"/>
<ellipse cx="1060.3" cy="3251.5" rx="16.3" ry="15.6" fill="#a6a6a6" stroke-width="6.2"/>
<ellipse cx="1124.5" cy="2998.5" rx="16.3" ry="15.6" fill="#a6a6a6" stroke-width="6.2"/>
<ellipse cx="1145.9" cy="2966.8" rx="16.3" ry="15.6" fill="#a6a6a6" stroke-width="6.2"/>
<ellipse cx="1167.3" cy="3141.0" rx="16.3" ry="15.6" fill="#a6a6a6" stroke-width="6.2"/>
<ellipse cx="1188.7" cy="3046.4" rx="16.3" ry="15.6" fill="#a6a6a6" stroke-width="6.2"/>
<ellipse cx="1210.1" cy="3070.4" rx="16.3" ry="15.6" fill="#a6a6a6" stroke-width="6.2"/>
<ellipse cx="1274.3" cy="3250.7" rx="16.3" ry="15.6" fill="#a6a6a6" stroke-width="6.2"/>
<ellipse cx="1295.7" cy="3347.8" rx="16.3" ry="15.6" fill="#a6a6a6" stroke-width="6.2"/>
<ellipse cx="1338.5" cy="3429.9" rx="16.3" ry="15.6" fill="#a6a6a6" stroke-width="6.2"/>
<ellipse cx="1359.9" cy="3412.4" rx="16.3" ry="15.6" fill="#a6a6a6" stroke-width="6.2"/>
<ellipse cx="1424.1" cy="3262.9" rx="16.3" ry="15.6" fill="#a6a6a6" stroke-width="6.2"/>
<ellipse cx="1445.5" cy="3224.7" rx="16.3" ry="15.6" fill="#a6a6a6" stroke-width="6.2"/>
<ellipse cx="1466.9" cy="3247.9" rx="16.3" ry="15.6" fill="#a6a6a6" stroke-width="6.2"/>
<ellipse cx="1488.3" cy="3352.3" rx="16.3" ry="15.6" fill="#a6a6a6" stroke-width="6.2"/>
<ellipse cx="1509.7" cy="3355.5" rx="16.3" ry="15.6" fill="#a6a6a6" stroke-width="6.2"/>
<ellipse cx="1573.9" cy="3041.1" rx="16.3" ry="15.6" fill="#a6a6a6" stroke-width="6.2"/>
<ellipse cx="1595.3" cy="2947.3" rx="16.3" ry="15.6" fill="#a6a6a6" stroke-width="6.2"/>
<ellipse cx="1616.7" cy="3280.8" rx="16.3" ry="15.6" fill="#a6a6a6" stroke-width="6.2"/>
<ellipse cx="1638.1" cy="2943.6" rx="16.3" ry="15.6" fill="#a6a6a6" stroke-width="6.2"/>
<ellipse cx="1659.5" cy="2972.1" rx="16.3" ry="15.6" fill="#a6a6a6" stroke-width="6.2"/>
<ellipse cx="1723.7" cy="3153.6" rx="16.3" ry="15.6" fill="#a6a6a6" stroke-width="6.2"/>
<ellipse cx="1787.9" cy="3215.0" rx="16.3" ry="15.6" fill="#a6a6a6" stroke-width="6.2"/>
</g>
<g clip-path="url(#clipc)">
<polyline points="311.3,3506.4 396.9,3506.4 418.3,3506.4 439.7,3506.4 461.1,3506.4 525.3,3506.4 546.7,3506.4 568.1,3506.4 589.5,3506.4 675.1,3506.4 696.5,3506.4 717.9,3506.4 739.3,3506.4 760.7,3506.4 824.9,3506.4 846.3,3506.4 867.7,3506.4 889.1,3506.4 910.5,3506.4 974.7,3506.4 996.1,3506.4 1017.5,3506.4 1038.9,3506.4 1060.3,3506.4 1124.5,3344.1 1145.9,3379.1 1167.3,3375.4 1188.7,3287.7 1210.1,3179.6 1274.3,3054.5 1295.7,3236.9 1338.5,3294.6 1359.9,3386.0 1424.1,3360.8 1445.5,3323.8 1466.9,3300.3 1488.3,3392.9 1509.7,3364.5 1573.9,3320.2 1595.3,3196.3 1616.7,3193.9 1638.1,3091.5 1659.5,3057.0 1723.7,3159.7 1787.9,3233.3 1830.7,3234.1" fill="none" stroke-width="4.7" stroke-linejoin="round"/>
<ellipse cx="311.3" cy="3506.4" rx="16.0" ry="15.3" fill="#000" stroke-width="4.0"/>
<ellipse cx="396.9" cy="3506.4" rx="16.0" ry="15.3" fill="#000" stroke-width="4.0"/>
<ellipse cx="418.3" cy="3506.4" rx="16.0" ry="15.3" fill="#000" stroke-width="4.0"/>
<ellipse cx="439.7" cy="3506.4" rx="16.0" ry="15.3" fill="#000" stroke-width="4.0"/>
<ellipse cx="461.1" cy="3506.4" rx="16.0" ry="15.3" fill="#000" stroke-width="4.0"/>
<ellipse cx="525.3" cy="3506.4" rx="16.0" ry="15.3" fill="#000" stroke-width="4.0"/>
<ellipse cx="546.7" cy="3506.4" rx="16.0" ry="15.3" fill="#000" stroke-width="4.0"/>
<ellipse cx="568.1" cy="3506.4" rx="16.0" ry="15.3" fill="#000" stroke-width="4.0"/>
<ellipse cx="589.5" cy="3506.4" rx="16.0" ry="15.3" fill="#000" stroke-width="4.0"/>
<ellipse cx="675.1" cy="3506.4" rx="16.0" ry="15.3" fill="#000" stroke-width="4.0"/>
<ellipse cx="696.5" cy="3506.4" rx="16.0" ry="15.3" fill="#000" stroke-width="4.0"/>
<ellipse cx="717.9" cy="3506.4" rx="16.0" ry="15.3" fill="#000" stroke-width="4.0"/>
<ellipse cx="739.3" cy="3506.4" rx="16.0" ry="15.3" fill="#000" stroke-width="4.0"/>
<ellipse cx="760.7" cy="3506.4" rx="16.0" ry="15.3" fill="#000" stroke-width="4.0"/>
<ellipse cx="824.9" cy="3506.4" rx="16.0" ry="15.3" fill="#000" stroke-width="4.0"/>
<ellipse cx="846.3" cy="3506.4" rx="16.0" ry="15.3" fill="#000" stroke-width="4.0"/>
<ellipse cx="867.7" cy="3506.4" rx="16.0" ry="15.3" fill="#000" stroke-width="4.0"/>
<ellipse cx="889.1" cy="3506.4" rx="16.0" ry="15.3" fill="#000" stroke-width="4.0"/>
<ellipse cx="910.5" cy="3506.4" rx="16.0" ry="15.3" fill="#000" stroke-width="4.0"/>
<ellipse cx="974.7" cy="3506.4" rx="16.0" ry="15.3" fill="#000" stroke-width="4.0"/>
<ellipse cx="996.1" cy="3506.4" rx="16.0" ry="15.3" fill="#000" stroke-width="4.0"/>
<ellipse cx="1017.5" cy="3506.4" rx="16.0" ry="15.3" fill="#000" stroke-width="4.0"/>
<ellipse cx="1038.9" cy="3506.4" rx="16.0" ry="15.3" fill="#000" stroke-width="4.0"/>
<ellipse cx="1060.3" cy="3506.4" rx="16.0" ry="15.3" fill="#000" stroke-width="4.0"/>
<ellipse cx="1124.5" cy="3344.1" rx="16.0" ry="15.3" fill="#000" stroke-width="4.0"/>
<ellipse cx="1145.9" cy="3379.1" rx="16.0" ry="15.3" fill="#000" stroke-width="4.0"/>
<ellipse cx="1167.3" cy="3375.4" rx="16.0" ry="15.3" fill="#000" stroke-width="4.0"/>
<ellipse cx="1188.7" cy="3287.7" rx="16.0" ry="15.3" fill="#000" stroke-width="4.0"/>
<ellipse cx="1210.1" cy="3179.6" rx="16.0" ry="15.3" fill="#000" stroke-width="4.0"/>
<ellipse cx="1274.3" cy="3054.5" rx="16.0" ry="15.3" fill="#000" stroke-width="4.0"/>
<ellipse cx="1295.7" cy="3236.9" rx="16.0" ry="15.3" fill="#000" stroke-width="4.0"/>
<ellipse cx="1338.5" cy="3294.6" rx="16.0" ry="15.3" fill="#000" stroke-width="4.0"/>
<ellipse cx="1359.9" cy="3386.0" rx="16.0" ry="15.3" fill="#000" stroke-width="4.0"/>
<ellipse cx="1424.1" cy="3360.8" rx="16.0" ry="15.3" fill="#000" stroke-width="4.0"/>
<ellipse cx="1445.5" cy="3323.8" rx="16.0" ry="15.3" fill="#000" stroke-width="4.0"/>
<ellipse cx="1466.9" cy="3300.3" rx="16.0" ry="15.3" fill="#000" stroke-width="4.0"/>
<ellipse cx="1488.3" cy="3392.9" rx="16.0" ry="15.3" fill="#000" stroke-width="4.0"/>
<ellipse cx="1509.7" cy="3364.5" rx="16.0" ry="15.3" fill="#000" stroke-width="4.0"/>
<ellipse cx="1573.9" cy="3320.2" rx="16.0" ry="15.3" fill="#000" stroke-width="4.0"/>
<ellipse cx="1595.3" cy="3196.3" rx="16.0" ry="15.3" fill="#000" stroke-width="4.0"/>
<ellipse cx="1616.7" cy="3193.9" rx="16.0" ry="15.3" fill="#000" stroke-width="4.0"/>
<ellipse cx="1638.1" cy="3091.5" rx="16.0" ry="15.3" fill="#000" stroke-width="4.0"/>
<ellipse cx="1659.5" cy="3057.0" rx="16.0" ry="15.3" fill="#000" stroke-width="4.0"/>
<ellipse cx="1723.7" cy="3159.7" rx="16.0" ry="15.3" fill="#000" stroke-width="4.0"/>
<ellipse cx="1787.9" cy="3233.3" rx="16.0" ry="15.3" fill="#000" stroke-width="4.0"/>
</g>
<rect x="311.3" y="2547.0" width="1520.7" height="145.5" fill="none" stroke-width="4"/>
<rect x="311.3" y="2619.7" width="1520.7" height="72.8" fill="none" stroke-width="5.3"/>
<line x1="675.0" y1="2619.7" x2="675.0" y2="2692.5" stroke-width="4.5" stroke-linecap="butt"/>
<line x1="290.3" y1="2692.5" x2="1832.0" y2="2692.5" stroke-width="4.5" stroke-linecap="butt"/>
<text transform="translate(59.86 2505.00) scale(1.0205 1)" font-size="76.80">c.</text>
<line x1="701.8" y1="2499.2" x2="746.4" y2="2499.2" stroke-width="3.4" stroke-linecap="round"/>
<ellipse cx="724.1" cy="2499.2" rx="13.8" ry="13.5" fill="#a6a6a6" stroke-width="5.2"/>
<text transform="translate(750.93 2519.00) scale(1.0446 1)" font-size="68.00">Eta In</text>
<line x1="987.0" y1="2499.0" x2="1031.6" y2="2499.0" stroke-width="3.4" stroke-linecap="round"/>
<ellipse cx="1009.3" cy="2499.0" rx="13.8" ry="13.5" fill="#000" stroke-width="4.2"/>
<text transform="translate(1035.82 2519.00) scale(1.0582 1)" font-size="68.00">Eta Out</text>
<text transform="translate(891.60 2600.90) scale(1.0603 1)" font-size="48.50">-450 mV vs SHE</text>
<text transform="translate(348.54 2656.30) scale(1.0174 1)" font-size="30.30">MINERAL MEDIUM</text>
<text transform="translate(960.32 2665.60) scale(1.0789 1)" font-size="38.40">SYNTHETIC GROUNDWATER</text>
<text transform="translate(121.10 3105.06) rotate(-90) scale(0.9356 1)" font-size="83.00">Eta (µM)</text>
<text transform="translate(935.68 3682.40) scale(1.1058 1)" font-size="73.70">Time (d)</text>
<text transform="translate(214.76 3528.30) scale(1.0600 1)" font-size="69.00">0</text>
<text transform="translate(214.39 3324.93) scale(1.0600 1)" font-size="69.00">5</text>
<text transform="translate(178.19 3121.55) scale(1.0600 1)" font-size="69.00">10</text>
<text transform="translate(177.82 2918.18) scale(1.0600 1)" font-size="69.00">15</text>
<text transform="translate(178.19 2714.80) scale(1.0600 1)" font-size="69.00">20</text>
<text transform="translate(257.84 3607.60) scale(1.0750 1)" font-size="68.00">119</text>
<text transform="translate(469.83 3607.60) scale(1.0750 1)" font-size="68.00">129</text>
<text transform="translate(683.83 3607.60) scale(1.0750 1)" font-size="68.00">139</text>
<text transform="translate(897.83 3607.60) scale(1.0750 1)" font-size="68.00">149</text>
<text transform="translate(1111.83 3607.60) scale(1.0750 1)" font-size="68.00">159</text>
<text transform="translate(1325.83 3607.60) scale(1.0750 1)" font-size="68.00">169</text>
<text transform="translate(1539.83 3607.60) scale(1.0750 1)" font-size="68.00">179</text>
<text transform="translate(1753.83 3607.60) scale(1.0750 1)" font-size="68.00">189</text>
<rect x="28.0" y="33.0" width="1863.0" height="3665.0" fill="none" stroke-width="8"/>
<line x1="28.0" y1="1203.0" x2="1891.0" y2="1203.0" stroke-width="8" stroke-linecap="butt"/>
<line x1="28.0" y1="2410.5" x2="1891.0" y2="2410.5" stroke-width="7.5" stroke-linecap="butt"/>
</svg></body></html>
